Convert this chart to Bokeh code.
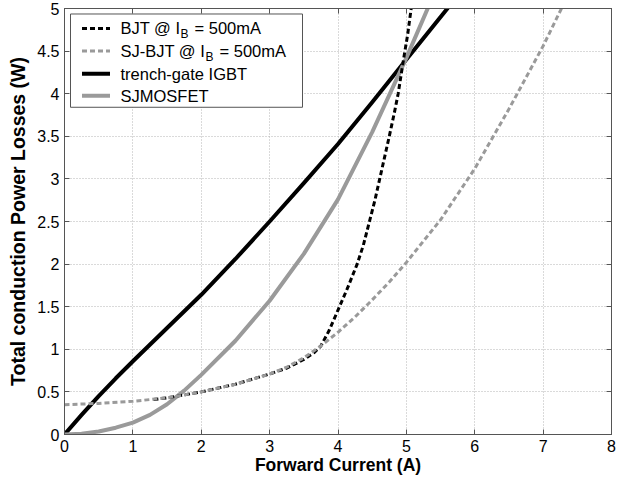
from bokeh.plotting import figure
from bokeh.models import (Range1d, FixedTicker, NumeralTickFormatter, LinearAxis,
                          CustomJSTickFormatter, BoxAnnotation, Label, Arrow)
from bokeh.embed import file_html
from bokeh.resources import INLINE

# ---------------- data ----------------
x_ticks = [0, 1, 2, 3, 4, 5, 6, 7, 8]
y_ticks = [0, 0.5, 1, 1.5, 2, 2.5, 3, 3.5, 4, 4.5, 5]

bjt_x = [1.3, 1.5, 2.0, 2.5, 3.0, 3.25, 3.5, 3.65, 3.75, 3.87, 4.0, 4.14, 4.28, 4.37,
         4.46, 4.54, 4.61, 4.68, 4.75, 4.82, 4.88, 4.96, 5.02, 5.07, 5.12]
bjt_y = [0.41, 0.43, 0.50, 0.59, 0.71, 0.78, 0.88, 0.96, 1.04, 1.22, 1.46, 1.72, 2.00, 2.22,
         2.50, 2.75, 3.00, 3.25, 3.50, 3.76, 4.00, 4.41, 4.70, 5.00, 5.30]

sjbjt_x = [0, 0.5, 1.0, 1.5, 2.0, 2.5, 3.0, 3.25, 3.5, 3.75, 4.0, 4.25, 4.5, 4.75,
           5.0, 5.5, 6.0, 6.5, 7.0, 7.5]
sjbjt_y = [0.35, 0.365, 0.39, 0.43, 0.50, 0.59, 0.71, 0.79, 0.90, 1.04, 1.20, 1.38, 1.58, 1.79,
           2.02, 2.52, 3.12, 3.82, 4.56, 5.38]

igbt_x = [0, 0.25, 0.5, 0.75, 1.0, 1.5, 2.0, 2.5, 3.0, 3.5, 4.0, 4.5, 5.0, 5.5, 5.75]
igbt_y = [0, 0.23, 0.45, 0.66, 0.86, 1.25, 1.64, 2.06, 2.50, 2.95, 3.41, 3.90, 4.40, 4.90, 5.15]

sjmos_x = [0, 0.25, 0.5, 0.75, 1.0, 1.25, 1.5, 1.75, 2.0, 2.5, 3.0, 3.5, 4.0, 4.5, 5.0, 5.5]
sjmos_y = [0, 0.01, 0.035, 0.08, 0.14, 0.23, 0.355, 0.515, 0.70, 1.10, 1.57, 2.12, 2.76, 3.55, 4.42, 5.35]

FONT = "Liberation Sans"
AX = "#555555"
GRAY = "#9a9a9a"

# ---------------- layout ----------------
W, H = 618, 477
BL, BR, BT, BB = 64, 7, 8, 42
FW = W - BL - BR
FH = H - BT - BB

p = figure(width=W, height=H, x_range=Range1d(0, 8), y_range=Range1d(0, 5),
           output_backend="svg", toolbar_location=None,
           min_border_left=BL, min_border_right=BR,
           min_border_top=BT, min_border_bottom=BB)
p.background_fill_color = "white"
p.border_fill_color = "white"
p.outline_line_color = AX
p.outline_line_width = 1

p.xaxis.ticker = FixedTicker(ticks=x_ticks)
p.yaxis.ticker = FixedTicker(ticks=y_ticks)
p.xaxis.formatter = NumeralTickFormatter(format="0")
p.yaxis.formatter = NumeralTickFormatter(format="0.[0]")

for ax in (p.xaxis[0], p.yaxis[0]):
    ax.major_tick_in = 5
    ax.major_tick_out = 0
    ax.minor_tick_in = 0
    ax.minor_tick_out = 0
    ax.axis_line_color = AX
    ax.major_tick_line_color = AX
    ax.major_label_text_font = FONT
    ax.major_label_text_font_size = "16px"
    ax.major_label_text_color = "black"
    ax.axis_label_text_font = FONT
    ax.axis_label_text_font_style = "bold"
    ax.axis_label_text_color = "black"

p.xaxis.axis_label = "Forward Current (A)"
p.xaxis.axis_label_text_font_size = "17.5px"
p.xaxis.major_label_standoff = 5
p.xaxis.axis_label_standoff = 0

p.yaxis.axis_label = "Total conduction Power Losses (W)"
p.yaxis.axis_label_text_font_size = "19.5px"
p.yaxis.major_label_standoff = 5
p.yaxis.axis_label_standoff = 5

# mirrored tick marks on top and right (no labels)
for loc, ticks in (("above", x_ticks), ("right", y_ticks)):
    ax = LinearAxis(ticker=FixedTicker(ticks=ticks),
                    formatter=CustomJSTickFormatter(code="return ''"),
                    major_tick_in=5, major_tick_out=0,
                    minor_tick_in=0, minor_tick_out=0,
                    axis_line_color=AX, major_tick_line_color=AX,
                    major_label_standoff=0, major_label_text_font_size="1px")
    p.add_layout(ax, loc)

p.grid.grid_line_color = "#b4b4b4"
p.grid.grid_line_dash = "1 2"
p.grid.grid_line_width = 1

# ---------------- curves ----------------
p.line(igbt_x, igbt_y, line_color="black", line_width=4, line_join="round")
p.line(sjmos_x, sjmos_y, line_color=GRAY, line_width=4, line_join="round")
p.line(bjt_x, bjt_y, line_color="black", line_width=3, line_dash="5 3")
p.line(sjbjt_x, sjbjt_y, line_color=GRAY, line_width=3, line_dash="5 3")

# ---------------- legend (custom, to allow the subscript) ----------------
sx = FW / 8.0
sy = FH / 5.0


def dx(px):
    return px / sx


def dy(px):
    return 5 - px / sy


p.add_layout(BoxAnnotation(left=dx(6), right=dx(238), top=dy(5.5), bottom=dy(99),
                           fill_color="white", fill_alpha=1.0,
                           line_color=AX, line_width=1, line_alpha=1.0))

rows = [20, 42.5, 65.5, 87.5]
styles = [("black", 3, "5 3"), (GRAY, 3, "5 3"), ("black", 4, "solid"), (GRAY, 4, "solid")]
for r, (c, w, d) in zip(rows, styles):
    p.add_layout(Arrow(start=None, end=None, x_start=dx(17.5), y_start=dy(r),
                       x_end=dx(45.5), y_end=dy(r),
                       line_color=c, line_width=w, line_dash=d))

LX = dx(56)
TS = "16.5px"


def lab(text, row, xoff=0, yoff=0, size=TS):
    p.add_layout(Label(x=LX, y=dy(row), text=text, x_offset=xoff, y_offset=yoff,
                       text_font=FONT, text_font_size=size, text_color="black",
                       text_baseline="middle", text_align="left"))


lab("BJT @ I", rows[0])
lab("B", rows[0], xoff=60, yoff=-6, size="12px")
lab(" = 500mA", rows[0], xoff=74)
lab("SJ-BJT @ I", rows[1])
lab("B", rows[1], xoff=85, yoff=-6, size="12px")
lab(" = 500mA", rows[1], xoff=99)
lab("trench-gate IGBT", rows[2])
lab("SJMOSFET", rows[3])

open("out.html", "w").write(file_html(p, INLINE))
